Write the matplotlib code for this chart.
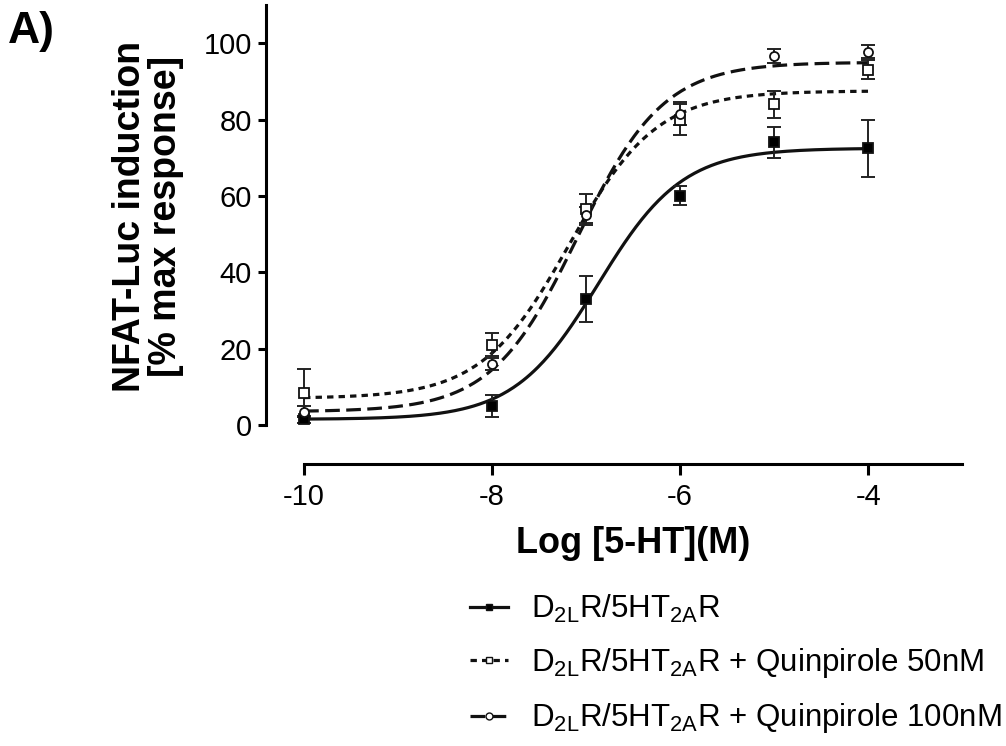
import numpy as np
import matplotlib
import matplotlib.pyplot as plt

matplotlib.use('Agg')

plt.rcParams['font.family'] = ['Liberation Sans', 'DejaVu Sans']
plt.rcParams['mathtext.fontset'] = 'custom'
plt.rcParams['mathtext.rm'] = 'Liberation Sans'
plt.rcParams['mathtext.it'] = 'Liberation Sans'
plt.rcParams['axes.unicode_minus'] = False

# log [5-HT] concentrations
log_conc = [-10, -8, -7, -6, -5, -4]

# D2LR/5HT2AR
ctrl_mean = [1.5, 5.0, 33.0, 60.0, 74.0, 72.5]
ctrl_sem = [1.0, 3.0, 6.0, 2.5, 4.0, 7.5]
# + Quinpirole 50nM
q50_mean = [8.5, 21.0, 56.5, 80.0, 84.0, 93.0]
q50_sem = [6.3, 3.0, 4.0, 4.0, 3.5, 2.5]
# + Quinpirole 100nM
q100_mean = [3.5, 16.0, 55.0, 81.5, 96.7, 97.8]
q100_sem = [1.5, 1.5, 2.0, 3.0, 1.8, 1.8]

# fitted sigmoid parameters: bottom, top, logEC50, hill slope
ctrl_fit = (1.5, 72.5, -6.87, 0.97)
q50_fit = (7.0, 87.5, -7.18, 0.93)
q100_fit = (3.5, 95.0, -7.09, 0.95)

labels = [
    r'D$_{\mathrm{2L}}$R/5HT$_{\mathrm{2A}}$R',
    r'D$_{\mathrm{2L}}$R/5HT$_{\mathrm{2A}}$R + Quinpirole 50nM',
    r'D$_{\mathrm{2L}}$R/5HT$_{\mathrm{2A}}$R + Quinpirole 100nM',
]


def logistic(x, bottom, top, logec50, hill):
    return bottom + (top - bottom) / (1 + 10 ** ((logec50 - x) * hill))


fig = plt.figure(figsize=(10.06, 7.46), dpi=100)
ax = fig.add_axes([0.2644, 0.378, 0.692, 0.6153])

xs = np.linspace(-10, -4, 300)
series = [
    (ctrl_mean, ctrl_sem, ctrl_fit, 's', 'black', '-'),
    (q50_mean, q50_sem, q50_fit, 's', 'white', (0, (2.0, 1.6))),
    (q100_mean, q100_sem, q100_fit, 'o', 'white', (0, (4.6, 2.0))),
]

handles = []
for (mean, sem, fit, marker, face, ls), label in zip(series, labels):
    ax.errorbar(log_conc, mean, yerr=sem, fmt='none', ecolor='#222222',
                elinewidth=1.4, capsize=5, capthick=1.4, zorder=3)
    ax.plot(log_conc, mean, linestyle='none', marker=marker, markersize=6.5,
            markerfacecolor=face, markeredgecolor='#111111', markeredgewidth=1.3, zorder=4)
    ax.plot(xs, logistic(xs, *fit), color='#111111', lw=2.3, linestyle=ls, zorder=2)
    h, = ax.plot([], [], color='#111111', lw=2.3, linestyle=ls, marker=marker,
                 markersize=5, markerfacecolor=face, markeredgecolor='#111111')
    handles.append(h)

ax.set_xlim(-10.405, -3)
ax.set_ylim(-10.2, 110)
ax.set_xticks([-10, -8, -6, -4])
ax.set_yticks([0, 20, 40, 60, 80, 100])

for side in ['top', 'right']:
    ax.spines[side].set_visible(False)
ax.spines['left'].set_bounds(0, 110)
ax.spines['bottom'].set_bounds(-10, -3)
ax.spines['left'].set_linewidth(2.2)
ax.spines['bottom'].set_linewidth(2.2)
ax.tick_params(axis='both', width=2.2, length=6, labelsize=21, pad=4)
ax.tick_params(axis='x', length=8, pad=6)

ax.set_ylabel('NFAT-Luc induction\n[% max response]', fontsize=27,
              fontweight='bold', linespacing=1.0)
ax.yaxis.set_label_coords(-0.118, 0.54)
ax.set_xlabel('Log [5-HT](M)', fontsize=26, fontweight='bold')
ax.xaxis.set_label_coords(0.527, -0.135)

fig.text(0.008, 0.985, 'A)', fontsize=32, fontweight='bold', va='top', ha='left')

fig.legend(handles, labels, loc='upper left', bbox_to_anchor=(0.455, 0.222),
           frameon=False, fontsize=22.5, handlelength=1.2, handletextpad=0.75,
           labelspacing=0.68, borderaxespad=0)

fig.savefig('out.png', dpi=100)
plt.close(fig)
